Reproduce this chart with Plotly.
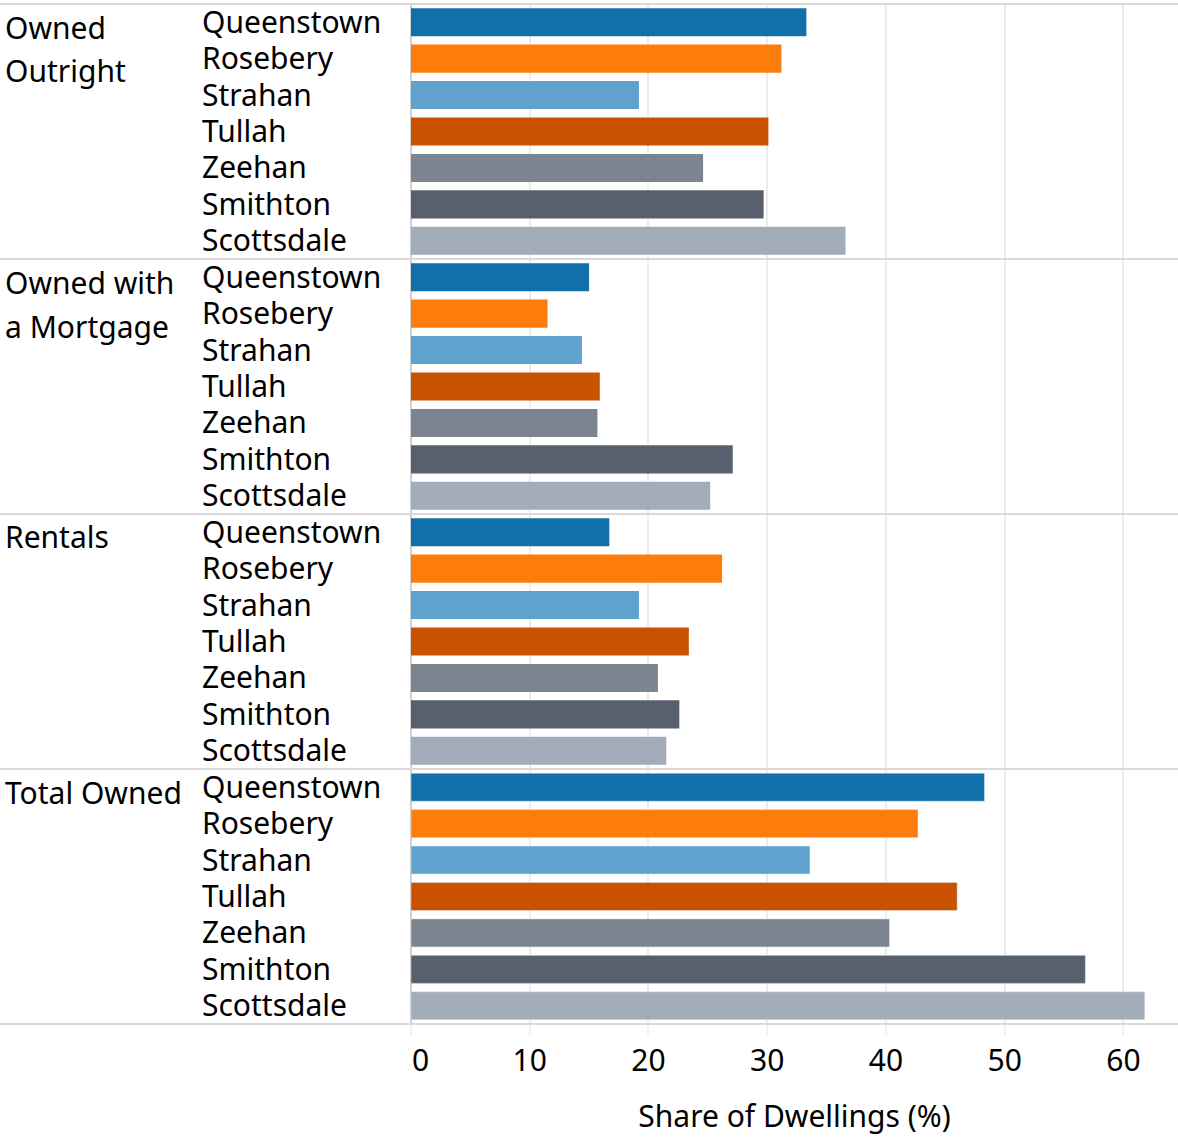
import plotly.graph_objects as go
from plotly.subplots import make_subplots

# tenure groups (facet rows) and towns (bars in each row)
groups = ["Owned Outright", "Owned with a Mortgage", "Rentals", "Total Owned"]
group_lines = [["Owned", "Outright"], ["Owned with", "a Mortgage"], ["Rentals"], ["Total Owned"]]
towns = ["Queenstown", "Rosebery", "Strahan", "Tullah", "Zeehan", "Smithton", "Scottsdale"]

owned_outright = [33.3, 31.2, 19.2, 30.1, 24.6, 29.7, 36.6]
owned_mortgage = [15.0, 11.5, 14.4, 15.9, 15.7, 27.1, 25.2]
rentals = [16.7, 26.2, 19.2, 23.4, 20.8, 22.6, 21.5]
total_owned = [48.3, 42.7, 33.6, 46.0, 40.3, 56.8, 61.8]
series = [owned_outright, owned_mortgage, rentals, total_owned]

x_ticks = [0, 10, 20, 30, 40, 50, 60]
town_colors = ["#1170aa", "#fc7d0b", "#5fa2ce", "#c85200", "#7b848f", "#57606c", "#a3acb9"]

W, H = 1178, 1139
TOP, BOTTOM = 4, 115
PLOT_LEFT = 411
LABEL_X = 201
FONT = "Noto Sans"
X_RANGE = [0, 64.6]
TEXT = {"size": 30, "color": "#000", "family": FONT}

fig = make_subplots(rows=4, cols=1, shared_xaxes=True, vertical_spacing=0)

for i, vals in enumerate(series, start=1):
    fig.add_trace(
        go.Bar(
            x=vals,
            y=towns,
            orientation="h",
            marker={"color": town_colors, "line": {"width": 0}},
            name=groups[i - 1],
            showlegend=False,
            hovertemplate="%{y}: %{x:.1f}%<extra></extra>",
        ),
        row=i,
        col=1,
    )
    # town labels: free axis placed left of the bars, labels drawn to its right (left-aligned)
    fig.update_yaxes(
        categoryorder="array",
        categoryarray=towns,
        autorange="reversed",
        anchor="free",
        position=LABEL_X / W,
        side="right",
        ticks="",
        showline=False,
        showgrid=False,
        zeroline=False,
        automargin=False,
        tickfont=TEXT,
        row=i,
        col=1,
    )

fig.update_xaxes(
    domain=[PLOT_LEFT / W, 1],
    range=X_RANGE,
    tickvals=x_ticks[1:],
    showgrid=True,
    gridcolor="#ececec",
    gridwidth=2,
    zeroline=True,
    zerolinecolor="#d0d0d0",
    zerolinewidth=2,
    showline=False,
    ticks="outside",
    ticklen=10,
    tickcolor="#f0f0f0",
    tickwidth=2,
    automargin=False,
    tickfont=TEXT,
)
fig.update_xaxes(
    title={"text": "Share of Dwellings (%)", "font": TEXT, "standoff": 26},
    row=4,
    col=1,
)

# the first tick label sits flush with the zero line
fig.update_layout(
    xaxis5={
        "overlaying": "x4",
        "anchor": "y4",
        "domain": [PLOT_LEFT / W, 1],
        "range": X_RANGE,
        "tickvals": x_ticks[:1],
        "ticklabelposition": "outside right",
        "ticklabelstandoff": 10,
        "ticks": "outside",
        "ticklen": 10,
        "tickcolor": "#f0f0f0",
        "tickwidth": 2,
        "showgrid": False,
        "zeroline": False,
        "showline": False,
        "automargin": False,
        "tickfont": TEXT,
    }
)
fig.add_trace(
    go.Bar(x=total_owned, y=towns, orientation="h", xaxis="x5", yaxis="y4",
           marker={"color": "rgba(0,0,0,0)"}, showlegend=False, hoverinfo="skip")
)

plot_h = H - TOP - BOTTOM
row_h = plot_h / 4


def paper_y(px):
    return (H - BOTTOM - px) / plot_h


# separators between tenure groups
for k in range(5):
    yp = paper_y(TOP + k * row_h)
    fig.add_shape(type="line", xref="paper", yref="paper", x0=0, x1=1, y0=yp, y1=yp,
                  line={"color": "#d9d9d9", "width": 2})

# group headers on the left
for k, lines in enumerate(group_lines):
    for j, text in enumerate(lines):
        fig.add_annotation(
            text=text,
            xref="paper",
            yref="paper",
            x=3 / W,
            y=paper_y(TOP + k * row_h + 23 + 44 * j),
            xanchor="left",
            yanchor="middle",
            showarrow=False,
            font=TEXT,
        )

fig.update_layout(
    width=W,
    height=H,
    margin={"l": 0, "r": 0, "t": TOP, "b": BOTTOM, "autoexpand": False},
    bargap=0.23,
    paper_bgcolor="white",
    plot_bgcolor="white",
    font=TEXT,
)

fig.write_html(
    "out.html",
    config={"displayModeBar": False},
    post_script="document.body.style.margin = '0';",
)
